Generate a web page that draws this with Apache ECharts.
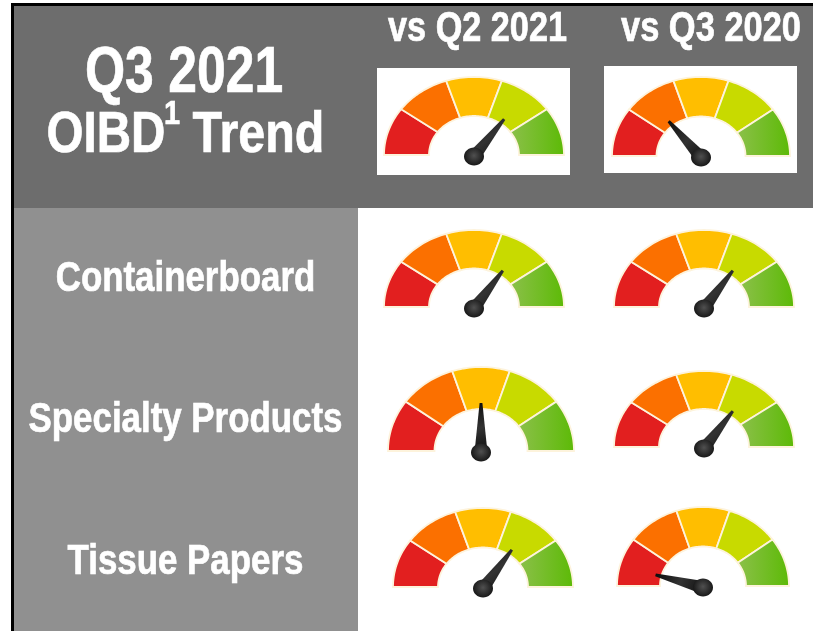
<!DOCTYPE html>
<html><head><meta charset="utf-8">
<style>html,body{margin:0;padding:0;background:#fff}#c{width:813px;height:631px}</style>
<script src="https://cdn.jsdelivr.net/npm/echarts@6/dist/echarts.min.js"></script>
</head><body><div id="c"></div>
<script>
const columnLabels = ['vs Q2 2021', 'vs Q3 2020'];
const rowLabels = ['Containerboard', 'Specialty Products', 'Tissue Papers'];
const bandEdges = [0, 20, 40, 60, 80, 100];
const needleTotal = [70, 28];
const needleContainerboard = [69, 69];
const needleSpecialty = [50, 69];
const needleTissue = [69, 8];

const needleValues = [...needleTotal, ...needleContainerboard, ...needleSpecialty, ...needleTissue];
// layout of each dial: centre x, baseline y, half width, height
const boxes = [[474,155,90,78],[701,156,89,79],[474,307,90,77],[704,307,90,77],
               [481,451,93,84],[704,447,90,76],[483,587,90,79],[703,586,86,79]];
const bandFills = ['#e21f1f','#fb7000','#ffbe00','#c8da00',
  {type:'linear',x:0,y:0,x2:1,y2:0,colorStops:[{offset:0,color:'#8cc04a'},{offset:1,color:'#5cba06'}]}];
const toAngle = v => Math.PI * (1 - v / 100);
const inner = 0.5, needleLen = 0.57;

const grid = [], xAxis = [], yAxis = [], series = [];
boxes.forEach((b, i) => {
  grid.push({left:b[0]-b[2], top:b[1]-b[3], width:b[2]*2, height:b[3]});
  xAxis.push({type:'value', gridIndex:i, min:-1, max:1, show:false});
  yAxis.push({type:'value', gridIndex:i, min:0, max:1, show:false});
  series.push({
    type:'custom', xAxisIndex:i, yAxisIndex:i, clip:false, silent:true, z:3,
    data: bandEdges.slice(0,-1).map((e,k)=>[e, bandEdges[k+1], k]),
    renderItem(p, api){
      const a = api.value(0), z = api.value(1), pts = [];
      for (let v=a; v<=z+1e-6; v+=1) pts.push(api.coord([Math.cos(toAngle(v)), Math.sin(toAngle(v))]));
      for (let v=z; v>=a-1e-6; v-=1) pts.push(api.coord([inner*Math.cos(toAngle(v)), inner*Math.sin(toAngle(v))]));
      return {type:'polygon', shape:{points:pts},
        style:{fill:bandFills[api.value(2)], stroke:'#fdf3dc', lineWidth:1.8}};
    }
  });
  series.push({
    type:'custom', xAxisIndex:i, yAxisIndex:i, clip:false, silent:true, z:4,
    data:[[needleValues[i]]],
    renderItem(p, api){
      const t = toAngle(api.value(0));
      const tip = api.coord([needleLen*Math.cos(t), needleLen*Math.sin(t)]);
      const hub = api.coord([0,0]); hub[1] += 1.5;
      const dx = tip[0]-hub[0], dy = tip[1]-hub[1], L = Math.hypot(dx,dy);
      const nx = -dy/L, ny = dx/L, w = 6.5, w2 = 1.4;
      return {type:'group', children:[
        {type:'polygon', shape:{points:[[tip[0]+nx*w2,tip[1]+ny*w2],[tip[0]-nx*w2,tip[1]-ny*w2],
            [hub[0]-nx*w,hub[1]-ny*w],[hub[0]+nx*w,hub[1]+ny*w]]},
          style:{fill:{type:'linear',x:0,y:0,x2:1,y2:1,colorStops:[{offset:0,color:'#0c0c0c'},{offset:0.5,color:'#333'},{offset:1,color:'#0c0c0c'}]}}},
        {type:'ellipse', shape:{cx:hub[0],cy:hub[1],rx:10,ry:9},
          style:{fill:{type:'radial',x:0.5,y:0.45,r:0.6,colorStops:[{offset:0,color:'#505050'},{offset:1,color:'#141414'}]}}}
      ]};
    }
  });
});

const FONT = '"Liberation Sans",Arial,sans-serif';
const label = (text,x,y,size,scaleX,align='center') => ({type:'text', z:10, x, y, scaleX,
  style:{text, fill:'#fff', stroke:'#fff', lineWidth:0.7, font:`bold ${size}px ${FONT}`, align, verticalAlign:'middle'}});
const rect = (x,y,width,height,fill,z=-2) => ({type:'rect', z, shape:{x,y,width,height}, style:{fill}, silent:true});

const graphic = [
  rect(11,3,802,628,'#000',-4),
  rect(14,6,799,202,'#6d6d6d'),
  rect(14,208,344,423,'#909090'),
  rect(358,208,455,423,'#fff'),
  rect(377,68,193,107,'#fff'),
  rect(604,66,193,107,'#fff'),
  label('Q3 2021',184,74,65,0.795),
  label('OIBD',46.5,136,57,0.835,'left'),
  label('1',172,115,34,0.85),
  label('Trend',192.5,136,57,0.85,'left'),
  label(columnLabels[0],477.5,29,42,0.815),
  label(columnLabels[1],711,29,42,0.82),
  label(rowLabels[0],185.5,279,42,0.83),
  label(rowLabels[1],185.5,420,42,0.83),
  label(rowLabels[2],185.5,562,42,0.83)
];

const chart = echarts.init(document.getElementById('c'), null, {renderer:'canvas'});
chart.setOption({animation:false, backgroundColor:'#fff', grid, xAxis, yAxis, series, graphic});
</script></body></html>
